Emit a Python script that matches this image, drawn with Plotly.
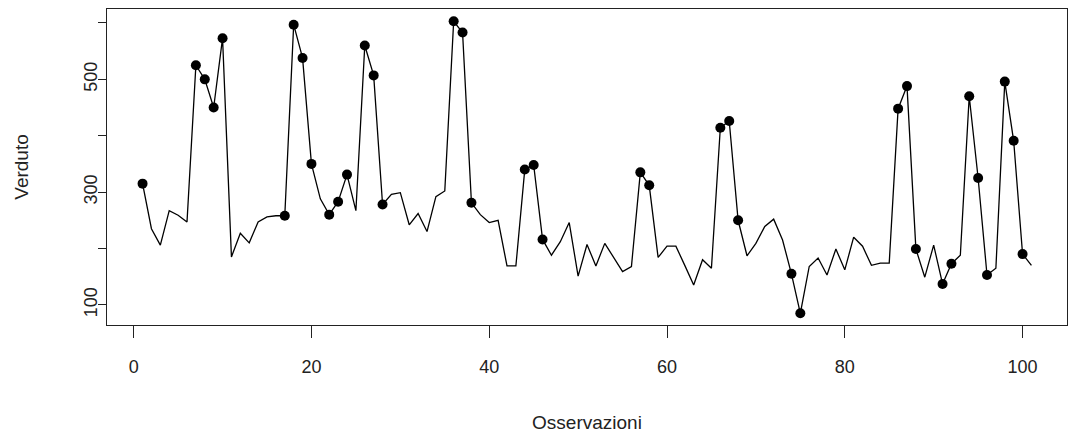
import plotly.graph_objects as go

osservazioni = list(range(1, 102))
verduto = [
    315, 235, 206, 267, 259, 247, 525, 500, 450, 573,
    185, 227, 210, 247, 256, 258, 258, 597, 538, 350,
    288, 260, 283, 331, 267, 560, 507, 278, 296, 299,
    242, 262, 230, 292, 302, 603, 583, 281, 260, 246,
    250, 169, 169, 340, 348, 216, 188, 212, 246, 151,
    207, 169, 209, 185, 159, 168, 335, 312, 184, 204,
    204, 170, 135, 180, 165, 414, 426, 250, 187, 209,
    239, 252, 215, 155, 85, 168, 183, 153, 199, 162,
    220, 204, 170, 174, 174, 448, 488, 199, 149, 206,
    137, 173, 188, 470, 325, 153, 165, 496, 391, 190,
    170,
]
# Observations highlighted with a filled point
evidenziati = [1, 7, 8, 9, 10, 17, 18, 19, 20, 22, 23, 24, 26, 27, 28,
               36, 37, 38, 44, 45, 46, 57, 58, 66, 67, 68, 74, 75,
               86, 87, 88, 91, 92, 94, 95, 96, 98, 99, 100]
evid_vals = [verduto[i - 1] for i in evidenziati]

x_ticks = [0, 20, 40, 60, 80, 100]
y_ticks = [100, 200, 300, 400, 500, 600]
y_ticktext = ["100", "", "300", "", "500", ""]

font_family = "Liberation Sans, Arial, sans-serif"

fig = go.Figure()
fig.add_trace(go.Scatter(
    x=osservazioni, y=verduto, mode="lines",
    line=dict(color="black", width=1.3), hoverinfo="x+y", showlegend=False,
))
fig.add_trace(go.Scatter(
    x=evidenziati, y=evid_vals, mode="markers",
    marker=dict(color="black", size=10, symbol="circle"),
    showlegend=False,
))

fig.update_layout(
    width=1080, height=438,
    margin=dict(l=107, r=13, t=9, b=113),
    paper_bgcolor="white", plot_bgcolor="white",
    font=dict(family=font_family, size=18, color="#222"),
    xaxis=dict(
        range=[-3, 105], tickvals=x_ticks, ticks="outside", ticklen=12,
        tickwidth=1, tickcolor="#222", showgrid=False, zeroline=False,
        showline=True, linecolor="#222", linewidth=1.2, mirror=True,
        ticklabelstandoff=13,
        title=dict(text="Osservazioni", standoff=39, font=dict(size=19)),
    ),
    yaxis=dict(
        range=[64.2, 624.8], tickvals=y_ticks, ticktext=y_ticktext,
        ticks="outside", ticklen=8, tickwidth=1, tickcolor="#222",
        tickangle=-90, showgrid=False, zeroline=False,
        showline=True, linecolor="#222", linewidth=1.2, mirror=True,
        ticklabelstandoff=-6,
        title=dict(text="Verduto", standoff=47, font=dict(size=19)),
    ),
)

fig.write_html("out.html")
